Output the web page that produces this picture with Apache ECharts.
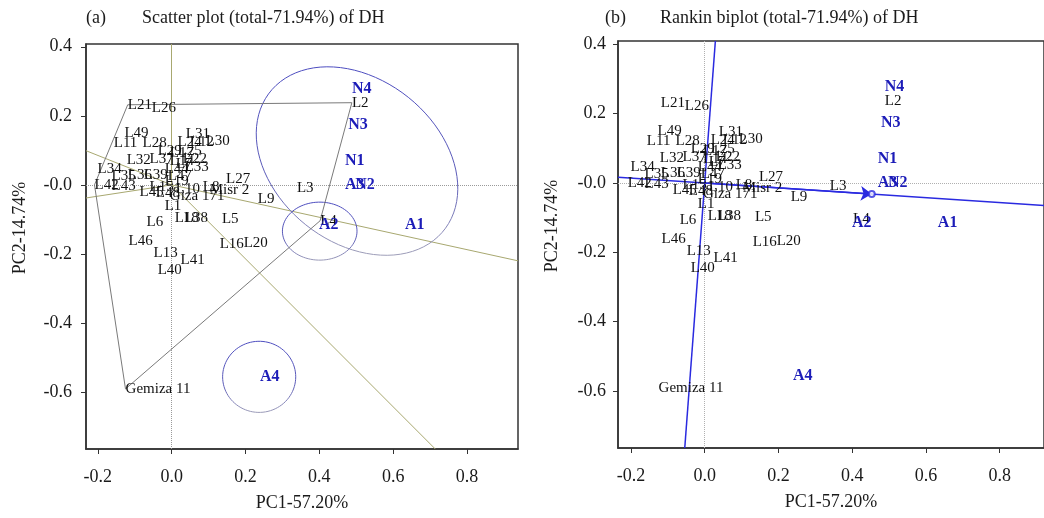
<!DOCTYPE html>
<html>
<head>
<meta charset="utf-8">
<title>GGE biplot of DH</title>
<script src="https://cdn.jsdelivr.net/npm/echarts@6/dist/echarts.min.js"></script>
<style>
  html, body { margin: 0; padding: 0; background: #fff; }
  #chart { width: 1044px; height: 518px; }
</style>
</head>
<body>
<div id="chart"></div>
<script>
// genotype scores (PC1, PC2)
const genoNames = ['L21', 'L26', 'L49', 'L11', 'L28', 'L31', 'L24', 'L12', 'L30', 'L29',
  'L17', 'L25', 'L32', 'L37', 'L14', 'L22', 'L7', 'L34', 'L33', 'L44',
  'L35', 'L36', 'L39', 'L47', 'L19', 'L42', 'L43', 'L15', 'L45', 'L48',
  'L10', 'Giza 171', 'L8', 'Misr 2', 'L27', 'L9', 'L3', 'L1', 'L6', 'L18',
  'L38', 'L5', 'L46', 'L13', 'L41', 'L40', 'L16', 'L20', 'Gemiza 11', 'L2', 'L4']
const genoPC1 = [-0.119, -0.054, -0.128, -0.157, -0.079, 0.038, 0.016, 0.049, 0.092, -0.038,
  -0.005, 0.016, -0.122, -0.060, -0.005, 0.030, 0.011, -0.201, 0.035, -0.019,
  -0.163, -0.119, -0.076, -0.011, -0.019, -0.209, -0.163, -0.060, -0.087, -0.043,
  0.011, -0.005, 0.084, 0.103, 0.147, 0.233, 0.339, -0.019, -0.068, 0.008,
  0.033, 0.136, -0.117, -0.049, 0.024, -0.038, 0.130, 0.195, -0.125, 0.488, 0.402]
const genoPC2 = [0.232, 0.223, 0.151, 0.122, 0.122, 0.148, 0.125, 0.125, 0.128, 0.099,
  0.093, 0.099, 0.072, 0.075, 0.070, 0.075, 0.061, 0.046, 0.052, 0.046,
  0.026, 0.029, 0.029, 0.026, 0.012, 0.000, -0.003, -0.006, -0.020, -0.023,
  -0.012, -0.032, -0.006, -0.014, 0.017, -0.041, -0.009, -0.061, -0.107, -0.096,
  -0.096, -0.099, -0.162, -0.197, -0.217, -0.246, -0.171, -0.168, -0.591, 0.238, -0.104]

// environment scores
const envNames = ['N4', 'N3', 'N1', 'A3', 'N2', 'A2', 'A1', 'A4']
const envPC1 = [0.488, 0.478, 0.469, 0.469, 0.497, 0.399, 0.632, 0.239]
const envPC2 = [0.278, 0.174, 0.070, 0.000, 0.000, -0.116, -0.116, -0.557]

const xTicks = [-0.2, 0, 0.2, 0.4, 0.6, 0.8]
const yTicks = [-0.6, -0.4, -0.2, 0, 0.2, 0.4]

// (a) polygon vertices, rays from origin, environment groups
const hullNames = ['L21', 'L2', 'L4', 'Gemiza 11', 'L42']
const rayEnds = [[0, 0.408], [0.938, -0.220], [0.714, -0.765], [-0.232, -0.038], [-0.232, 0.099]]
// cx, cy, rx, ry, rotation (deg)
const envGroups = [[0.502, 0.069, 0.31, 0.23, -45], [0.401, -0.134, 0.101, 0.084, 0], [0.237, -0.556, 0.099, 0.103, 0]]

// (b) average environment axis
const aecAbscissa = [[-0.235, 0.0167], [0.92, -0.065]]
const aecOrdinate = [[0.029, 0.41], [-0.054, -0.765]]
const avgEnv = [0.453, -0.032]

const extA = {x: [-0.232, 0.938], y: [-0.765, 0.408]}
const extB = {x: [-0.235, 0.92], y: [-0.765, 0.41]}

const serif = 'Liberation Serif'
const chart = echarts.init(document.getElementById('chart'))

function xAxisFor (idx, ext) {
  return {
    type: 'value', gridIndex: idx, min: ext.x[0], max: ext.x[1],
    name: 'PC1-57.20%', nameLocation: 'middle', nameGap: 45,
    nameTextStyle: {fontFamily: serif, fontSize: 18, color: '#1a1a1a'},
    splitLine: {show: false},
    axisLine: {onZero: false, lineStyle: {color: '#333', width: 1.5}},
    axisTick: {length: 5, lineStyle: {color: '#333'}, customValues: xTicks},
    axisLabel: {
      customValues: xTicks, margin: 19, fontFamily: serif, fontSize: 18, color: '#1a1a1a',
      formatter: v => v.toFixed(1)
    }
  }
}

function yAxisFor (idx, ext, margin) {
  return {
    type: 'value', gridIndex: idx, min: ext.y[0], max: ext.y[1],
    splitLine: {show: false},
    axisLine: {onZero: false, lineStyle: {color: '#333', width: 1.5}},
    axisTick: {length: 5, lineStyle: {color: '#333'}, customValues: yTicks},
    axisLabel: {
      customValues: yTicks, margin: margin, fontFamily: serif, fontSize: 18, color: '#1a1a1a',
      formatter: v => (Math.abs(v) < 1e-9 ? '-0.0' : v.toFixed(1))
    }
  }
}

function zeroLines (idx, ext, color) {
  return {
    type: 'lines', coordinateSystem: 'cartesian2d', xAxisIndex: idx, yAxisIndex: idx,
    silent: true, z: 1,
    lineStyle: {color: color, width: 1, type: 'dotted', opacity: 1},
    data: [{coords: [[ext.x[0], 0], [ext.x[1], 0]]}, {coords: [[0, ext.y[0]], [0, ext.y[1]]]}]
  }
}

function labelSeries (idx, names, xs, ys, env) {
  return {
    type: 'scatter', xAxisIndex: idx, yAxisIndex: idx, symbolSize: 0.1, z: 5,
    itemStyle: {color: '#fff', opacity: 0},
    label: {
      show: true, position: 'right', distance: 0, formatter: '{b}',
      fontFamily: serif, fontSize: env ? 16 : 15,
      fontWeight: env ? 'bold' : 'normal',
      color: env ? '#1c1cb8' : '#111',
      opacity: 1
    },
    data: names.map((n, i) => ({name: n, value: [xs[i], ys[i]]}))
  }
}

const hullData = hullNames.concat(hullNames[0]).map(n => {
  const i = genoNames.indexOf(n)
  return [genoPC1[i], genoPC2[i]]
})

chart.setOption({
  animation: false,
  backgroundColor: '#fff',
  title: [
    {text: '(a)', left: 86, top: 9},
    {text: 'Scatter plot (total-71.94%) of DH', left: 142, top: 9},
    {text: '(b)', left: 605, top: 9},
    {text: 'Rankin biplot (total-71.94%) of DH', left: 660, top: 9}
  ].map(t => Object.assign(t, {padding: 0, textStyle: {fontFamily: serif, fontSize: 18, fontWeight: 'normal', color: '#1a1a1a'}})),
  graphic: [
    {type: 'text', x: 20, y: 228, rotation: Math.PI / 2,
      style: {text: 'PC2-14.74%', font: '18px "Liberation Serif"', fill: '#1a1a1a', align: 'center', verticalAlign: 'middle'}},
    {type: 'text', x: 552, y: 226, rotation: Math.PI / 2,
      style: {text: 'PC2-14.74%', font: '18px "Liberation Serif"', fill: '#1a1a1a', align: 'center', verticalAlign: 'middle'}}
  ],
  grid: [
    {left: 86, top: 44, width: 432, height: 405, show: true, borderColor: '#333', borderWidth: 1.5, containLabel: false},
    {left: 618, top: 41, width: 428, height: 407, show: true, borderColor: '#333', borderWidth: 1.5, containLabel: false}
  ],
  xAxis: [xAxisFor(0, extA), xAxisFor(1, extB)],
  yAxis: [yAxisFor(0, extA, 14), yAxisFor(1, extB, 12)],
  series: [
    zeroLines(0, extA, '#9a9a9a'),
    zeroLines(1, extB, '#b0b0b0'),
    // (a) rays perpendicular to polygon sides
    {
      type: 'lines', coordinateSystem: 'cartesian2d', xAxisIndex: 0, yAxisIndex: 0, z: 2,
      lineStyle: {color: '#a8a870', width: 1, opacity: 1},
      data: rayEnds.map(e => ({coords: [[0, 0], e]}))
    },
    // (a) polygon
    {
      type: 'line', xAxisIndex: 0, yAxisIndex: 0, z: 3, symbol: 'none',
      lineStyle: {color: '#7a7a7a', width: 1},
      data: hullData
    },
    // (a) environment groups
    {
      type: 'custom', xAxisIndex: 0, yAxisIndex: 0, z: 3,
      data: envGroups,
      renderItem: function (params, api) {
        const cx = api.value(0), cy = api.value(1), rx = api.value(2), ry = api.value(3)
        const rot = api.value(4) * Math.PI / 180
        const pts = []
        for (let k = 0; k <= 90; k++) {
          const t = k / 90 * 2 * Math.PI
          const dx = rx * Math.cos(t), dy = ry * Math.sin(t)
          pts.push(api.coord([cx + dx * Math.cos(rot) - dy * Math.sin(rot), cy + dx * Math.sin(rot) + dy * Math.cos(rot)]))
        }
        return {
          type: 'polyline',
          shape: {points: pts},
          style: {
            fill: null, lineWidth: 1,
            stroke: new echarts.graphic.LinearGradient(0, 0, 0, 1, [
              {offset: 0, color: '#4c4cc0'}, {offset: 0.6, color: '#5c5cb8'}, {offset: 1, color: '#a0a0b8'}
            ])
          }
        }
      }
    },
    // (b) AEC axes
    {
      type: 'lines', coordinateSystem: 'cartesian2d', xAxisIndex: 1, yAxisIndex: 1, z: 3,
      lineStyle: {color: '#2a2ae0', width: 1.5, opacity: 1},
      data: [{coords: aecAbscissa}, {coords: aecOrdinate}]
    },
    {
      type: 'lines', coordinateSystem: 'cartesian2d', xAxisIndex: 1, yAxisIndex: 1, z: 4,
      symbol: ['none', 'arrow'], symbolSize: 11,
      lineStyle: {color: '#2a2ae0', width: 1.5, opacity: 1},
      data: [{coords: [[0, 0], avgEnv]}]
    },
    {
      type: 'scatter', xAxisIndex: 1, yAxisIndex: 1, z: 4, symbol: 'emptyCircle', symbolSize: 6,
      itemStyle: {color: '#2a2ae0', borderWidth: 1},
      data: [avgEnv]
    },
    labelSeries(0, genoNames, genoPC1, genoPC2, false),
    labelSeries(0, envNames, envPC1, envPC2, true),
    labelSeries(1, genoNames, genoPC1, genoPC2, false),
    labelSeries(1, envNames, envPC1, envPC2, true)
  ]
})
</script>
</body>
</html>
